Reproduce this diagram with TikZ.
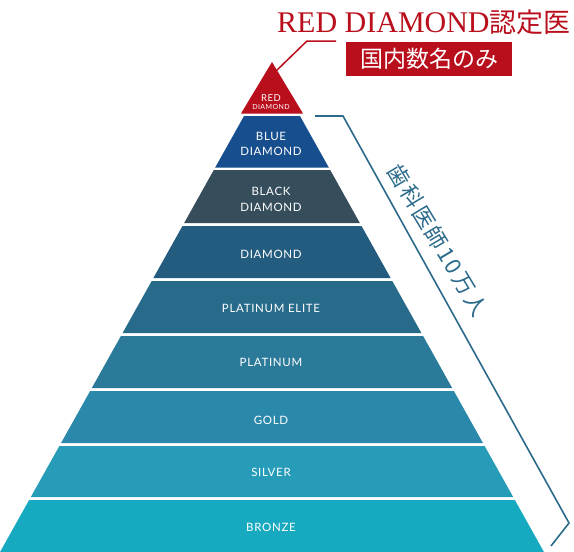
\documentclass[tikz,border=0pt]{standalone}
\usepackage{fontspec}
\setmainfont{Liberation Serif}
\newfontfamily\cjk{Noto Sans CJK JP}
\newfontfamily\labfont[LetterSpace=6]{Lato}
\definecolor{rdred}{HTML}{B90E1C}
\definecolor{cblue}{HTML}{174E8E}
\definecolor{cblack}{HTML}{364D5B}
\definecolor{cdia}{HTML}{245C80}
\definecolor{celite}{HTML}{286A8A}
\definecolor{cplat}{HTML}{2B7A9A}
\definecolor{cgold}{HTML}{2A89AB}
\definecolor{csilver}{HTML}{269CB9}
\definecolor{cbronze}{HTML}{17A9BF}
\definecolor{cbracket}{HTML}{2B6A8A}
\newcommand\pslope{0.5596}
\newcommand\pband[3]{\fill[#3] ({272-(#1-66)*\pslope},#1) -- ({272+(#1-66)*\pslope},#1) -- ({272+(#2-66)*\pslope},#2) -- ({272-(#2-66)*\pslope},#2) -- cycle;}
\begin{document}
\begin{tikzpicture}[x=1pt,y=-1pt,
  lab/.style={text=white,font=\labfont\fontsize{11.5}{15.5}\selectfont,align=center,inner sep=0pt},
  smalllab/.style={text=white,font=\labfont\fontsize{7}{9}\selectfont,inner sep=0pt}]
\useasboundingbox (0,0) rectangle (574,552);
% red top
\fill[rdred] (272,62) -- (303,113.5) -- (241,113.5) -- cycle;
\pband{116}{167.5}{cblue}
\pband{170}{223}{cblack}
\pband{226}{278}{cdia}
\pband{281}{333}{celite}
\pband{336}{388}{cplat}
\pband{391}{443}{cgold}
\pband{446}{497}{csilver}
\pband{500}{552}{cbronze}
% labels
\node[text=white,font=\labfont\fontsize{9.5}{11}\selectfont,inner sep=0pt] (lred1) at (271,98) {RED};
\node[smalllab] (lred2) at (271,107) {DIAMOND};
\node[lab] (lblue) at (271,144) {BLUE\\DIAMOND};
\node[lab] (lblack) at (271,199.5) {BLACK\\DIAMOND};
\node[lab] (ldia) at (271,254) {DIAMOND};
\node[lab] (lelite) at (271,308) {PLATINUM ELITE};
\node[lab] (lplat) at (271,362) {PLATINUM};
\node[lab] (lgold) at (271,420) {GOLD};
\node[lab] (lsilver) at (271,472) {SILVER};
\node[lab] (lbronze) at (271,527) {BRONZE};
% title
\node[anchor=base west,inner sep=0pt,text=rdred] (title) at (277,32)
  {\fontsize{30}{32}\selectfont RED DIAMOND{\cjk\fontsize{27}{30}\selectfont 認定医}};
\node[fill=rdred,text=white,minimum width=166pt,minimum height=34pt,inner sep=0pt,
  font=\cjk\fontsize{23}{26}\selectfont] (box) at (429,59) {国内数名のみ};
% leader
\coordinate (lstart) at (275,72);
\coordinate (lknee) at (307,41);
\coordinate (lend) at (336,41);
\draw[rdred,line width=1.5pt] (lstart) -- (lknee) -- (lend);
% bracket
\coordinate (b0) at (315,116);
\coordinate (b1) at (343,116);
\coordinate (b2) at (569,523);
\coordinate (b3) at (551,546);
\draw[cbracket,line width=1.6pt] (b0) -- (b1) -- (b2) -- (b3);
\node[rotate=-59,text=cbracket,inner sep=0pt,
  font=\cjk\fontsize{22}{24}\selectfont\addfontfeature{LetterSpace=10}] (count) at (438,240) {歯科医師10万人};
\end{tikzpicture}
\end{document}
